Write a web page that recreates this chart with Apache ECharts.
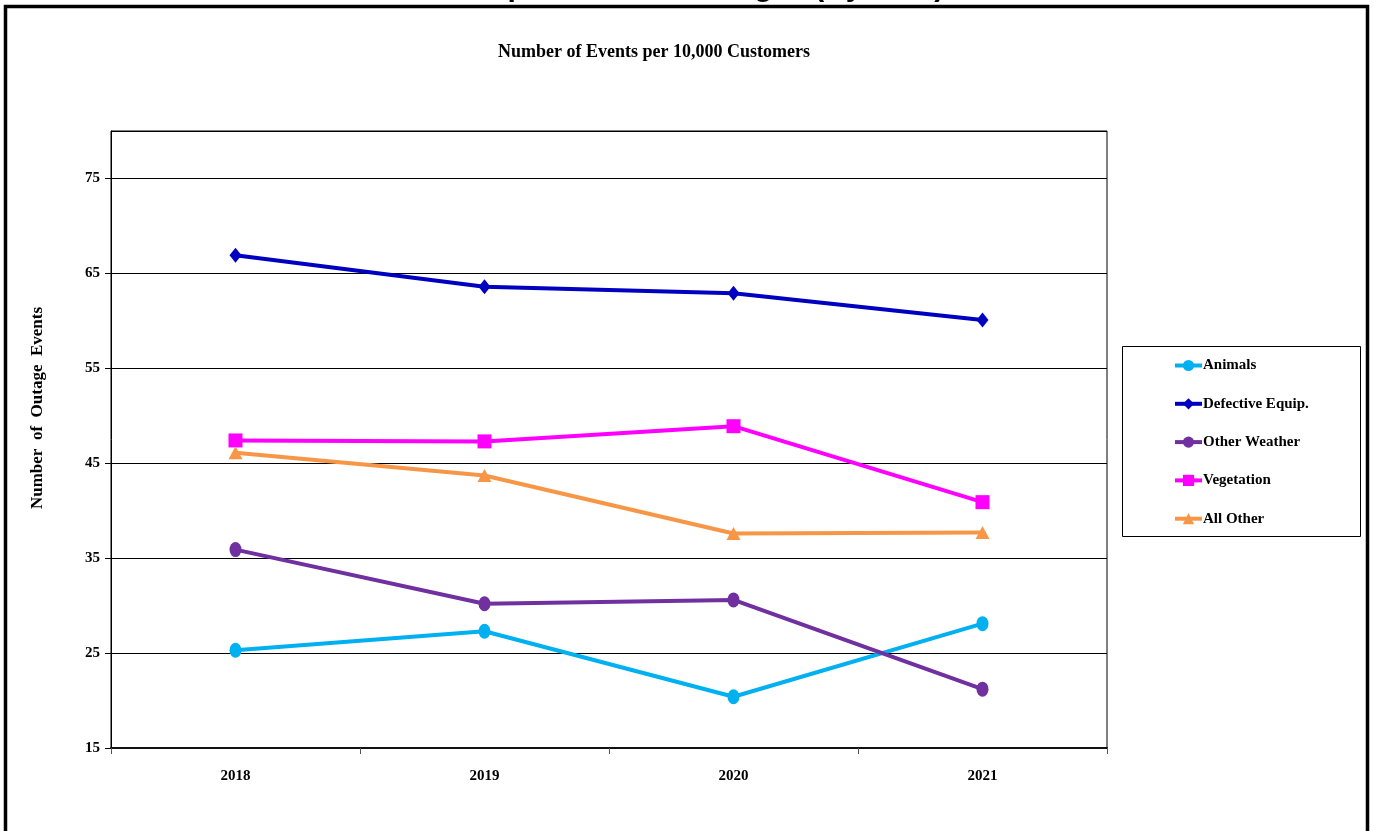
<!DOCTYPE html>
<html>
<head>
<meta charset="utf-8">
<script src="https://cdn.jsdelivr.net/npm/echarts@6/dist/echarts.min.js"></script>
<style>
html,body{margin:0;padding:0;background:#fff;}
#chart{width:1374px;height:831px;}
</style>
</head>
<body>
<div id="chart"></div>
<script>
const categories = ['2018', '2019', '2020', '2021'];
const animals = [25.3, 27.3, 20.4, 28.1];
const defectiveEquip = [66.9, 63.6, 62.9, 60.1];
const otherWeather = [35.9, 30.2, 30.6, 21.2];
const vegetation = [47.4, 47.3, 48.9, 40.9];
const allOther = [46.1, 43.7, 37.6, 37.7];
const seriesNames = ['Animals', 'Defective Equip.', 'Other Weather', 'Vegetation', 'All Other'];
const yTicks = [15, 25, 35, 45, 55, 65, 75];
const yAxisTitle = 'Number  of  Outage  Events';

const serif = '"Liberation Serif", "Times New Roman", serif';
const colors = ['#00B0F0', '#0000C0', '#7030A0', '#FF00FF', '#F79646'];
const symbols = ['circle', 'diamond', 'circle', 'rect', 'triangle'];
const symbolSizes = [[12, 15], [12, 15], [12, 15], [14, 14], [14, 13]];
const dataSets = [animals, defectiveEquip, otherWeather, vegetation, allOther];

const chart = echarts.init(document.getElementById('chart'), null, {renderer: 'canvas'});
chart.setOption({
  animation: false,
  backgroundColor: '#fff',
  title: {
    text: 'Number of Events per 10,000 Customers',
    left: 649, top: 38, textAlign: 'center',
    textStyle: {fontFamily: serif, fontWeight: 'bold', fontSize: 18, color: '#000'}
  },
  graphic: [
    {type: 'rect', shape: {x: 5.5, y: 6.5, width: 1362, height: 900}, style: {fill: 'none', stroke: '#000', lineWidth: 3.5}, z: 100},
    {type: 'text', x: 473, y: 3, style: {text: 'Top Causes of Outages (By Year)', font: 'bold 30px "Liberation Sans", Arial, sans-serif', fill: '#000', textVerticalAlign: 'bottom'}},
    {type: 'rect', shape: {x: 1122.5, y: 346.5, width: 238, height: 190}, style: {fill: '#fff', stroke: '#000', lineWidth: 1}, z: 5},
    {type: 'text', x: 38, y: 408, rotation: Math.PI / 2,
      style: {text: yAxisTitle, font: 'bold 17px "Liberation Serif", "Times New Roman", serif', fill: '#000', align: 'center', verticalAlign: 'middle'}}
  ],
  legend: {
    data: seriesNames,
    orient: 'vertical',
    left: 1173, top: 358, padding: 0,
    itemGap: 23.3,
    itemWidth: 27, itemHeight: 14,
    lineStyle: {width: 4},
    textStyle: {fontFamily: serif, fontWeight: 'bold', fontSize: 15, color: '#000', padding: [0, 0, 0, -4]},
    z: 10
  },
  grid: {
    left: 111, top: 131, width: 996, height: 617,
    show: true, borderColor: '#000', borderWidth: 1, backgroundColor: '#fff'
  },
  xAxis: {
    type: 'category', data: categories, boundaryGap: true,
    axisLine: {lineStyle: {color: '#111', width: 2}},
    axisTick: {show: true, inside: false, length: 6, alignWithLabel: false, lineStyle: {color: '#555'}},
    axisLabel: {margin: 21, fontFamily: serif, fontWeight: 'bold', fontSize: 15, color: '#000'},
    splitLine: {show: false}
  },
  yAxis: {
    type: 'value', min: 15, max: 80, interval: 10,
    axisLine: {show: true, lineStyle: {color: '#000', width: 1}},
    axisTick: {show: true, length: 6, lineStyle: {color: '#000'}},
    axisLabel: {margin: 11, fontFamily: serif, fontWeight: 'bold', fontSize: 15, color: '#000',
      showMaxLabel: false,
      formatter: v => (yTicks.indexOf(v) >= 0 ? String(v) : '')},
    splitLine: {show: true, lineStyle: {color: '#000', width: 1}}
  },
  series: seriesNames.map((name, i) => ({
    name: name, type: 'line', data: dataSets[i],
    symbol: symbols[i], symbolSize: symbolSizes[i], showSymbol: true,
    itemStyle: {color: colors[i]},
    lineStyle: {color: colors[i], width: 4},
    z: 3
  }))
});
</script>
</body>
</html>
